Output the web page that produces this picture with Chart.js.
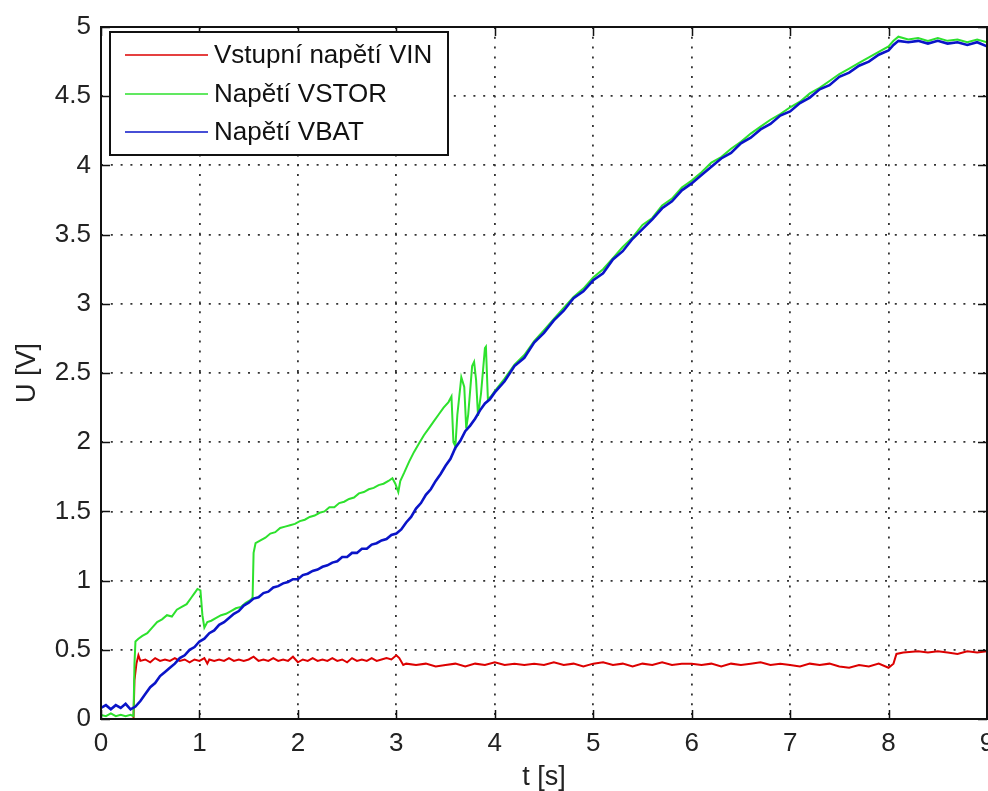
<!DOCTYPE html>
<html>
<head>
<meta charset="utf-8">
<title>Napětí VIN / VSTOR / VBAT</title>
<script src="https://cdn.jsdelivr.net/npm/chart.js@4.4.1/dist/chart.umd.min.js"></script>
<style>
  html, body { margin: 0; padding: 0; background: #fff; }
  #wrap { width: 988px; height: 791px; }
</style>
</head>
<body>
<div id="wrap"><canvas id="chart" width="988" height="791"></canvas></div>
<script>
// tick values
const xTicks = [0, 1, 2, 3, 4, 5, 6, 7, 8, 9];
const yTicks = [0, 0.5, 1, 1.5, 2, 2.5, 3, 3.5, 4, 4.5, 5];

const seriesLabels = ['Vstupní napětí VIN', 'Napětí VSTOR', 'Napětí VBAT'];

// VIN (red)
const vinTime = [0, 0.33, 0.34, 0.36, 0.38, 0.40, 0.45, 0.50, 0.55, 0.60, 0.65, 0.70, 0.75, 0.80, 0.85, 0.90, 0.95,
  1.00, 1.05, 1.08, 1.10, 1.15, 1.20, 1.25, 1.30, 1.35, 1.40, 1.45, 1.50, 1.55, 1.60, 1.65, 1.70, 1.75, 1.80, 1.85,
  1.90, 1.95, 2.00, 2.05, 2.10, 2.15, 2.20, 2.25, 2.30, 2.35, 2.40, 2.45, 2.50, 2.55, 2.60, 2.65, 2.70, 2.75, 2.80,
  2.85, 2.90, 2.95, 3.00, 3.03, 3.07, 3.10, 3.2, 3.3, 3.4, 3.5, 3.6, 3.7, 3.8, 3.9, 4.0, 4.1, 4.2, 4.3, 4.4, 4.5,
  4.6, 4.7, 4.8, 4.9, 5.0, 5.1, 5.2, 5.3, 5.4, 5.5, 5.6, 5.7, 5.8, 5.9, 6.0, 6.1, 6.2, 6.3, 6.4, 6.5, 6.6, 6.7,
  6.8, 6.9, 7.0, 7.1, 7.2, 7.3, 7.4, 7.5, 7.6, 7.7, 7.8, 7.9, 8.0, 8.05, 8.08, 8.15, 8.3, 8.4, 8.5, 8.6, 8.7,
  8.8, 8.9, 9.0];
const vinValues = [0, 0, 0.28, 0.40, 0.46, 0.42, 0.43, 0.41, 0.44, 0.42, 0.43, 0.42, 0.44, 0.42, 0.43, 0.41, 0.43,
  0.42, 0.44, 0.40, 0.43, 0.42, 0.43, 0.42, 0.44, 0.42, 0.43, 0.42, 0.43, 0.45, 0.42, 0.43, 0.42, 0.44, 0.42, 0.43,
  0.42, 0.45, 0.41, 0.43, 0.42, 0.44, 0.42, 0.43, 0.42, 0.44, 0.42, 0.43, 0.41, 0.44, 0.42, 0.43, 0.42, 0.44, 0.42,
  0.43, 0.44, 0.43, 0.46, 0.44, 0.39, 0.40, 0.39, 0.40, 0.38, 0.39, 0.40, 0.38, 0.40, 0.39, 0.41, 0.39, 0.40, 0.39, 0.40, 0.39,
  0.41, 0.39, 0.40, 0.38, 0.40, 0.41, 0.39, 0.40, 0.38, 0.40, 0.39, 0.41, 0.39, 0.40, 0.40, 0.39, 0.40, 0.38, 0.40, 0.39, 0.40, 0.41,
  0.39, 0.40, 0.39, 0.38, 0.40, 0.39, 0.40, 0.38, 0.37, 0.39, 0.38, 0.40, 0.37, 0.40, 0.47, 0.48, 0.49, 0.48, 0.49, 0.48, 0.47,
  0.49, 0.48, 0.49];

// VSTOR (green)
const vstorTime = [0.00, 0.05, 0.10, 0.15, 0.20, 0.25, 0.30, 0.33, 0.34, 0.35, 0.38, 0.42, 0.47, 0.52, 0.57, 0.62,
  0.67, 0.72, 0.77, 0.82, 0.87, 0.92, 0.95, 0.98, 1.01, 1.03, 1.05, 1.08, 1.12, 1.17, 1.22, 1.27, 1.32, 1.37, 1.42,
  1.47, 1.52, 1.54, 1.55, 1.57, 1.62, 1.67, 1.72, 1.77, 1.82, 1.87, 1.92, 1.97, 2.02, 2.07, 2.12, 2.17, 2.22, 2.27,
  2.32, 2.37, 2.42, 2.47, 2.52, 2.57, 2.62, 2.67, 2.72, 2.77, 2.82, 2.87, 2.92, 2.96, 2.99, 3.02, 3.04, 3.08, 3.13,
  3.18, 3.23, 3.28, 3.33, 3.38, 3.43, 3.48, 3.53, 3.56, 3.58, 3.60, 3.62, 3.66, 3.69, 3.71, 3.73, 3.77, 3.79, 3.81,
  3.83, 3.86, 3.90, 3.91, 3.93, 3.96, 4.00, 4.1, 4.2, 4.3, 4.4, 4.5, 4.6, 4.7, 4.8, 4.9, 5.0, 5.1, 5.2, 5.3, 5.4,
  5.5, 5.6, 5.7, 5.8, 5.9, 6.0, 6.1, 6.2, 6.3, 6.4, 6.5, 6.6, 6.7, 6.8, 6.9, 7.0, 7.1, 7.2, 7.3, 7.4, 7.5, 7.6,
  7.7, 7.8, 7.9, 8.0, 8.05, 8.1, 8.2, 8.3, 8.4, 8.5, 8.6, 8.7, 8.8, 8.9, 9.0];
const vstorValues = [0.03, 0.02, 0.04, 0.02, 0.03, 0.02, 0.03, 0.02, 0.40, 0.56, 0.58, 0.60, 0.62, 0.66, 0.70, 0.72,
  0.75, 0.74, 0.79, 0.81, 0.83, 0.88, 0.91, 0.94, 0.93, 0.75, 0.66, 0.70, 0.71, 0.73, 0.75, 0.76, 0.78, 0.80, 0.81,
  0.84, 0.86, 0.88, 1.20, 1.27, 1.29, 1.31, 1.34, 1.35, 1.38, 1.39, 1.40, 1.41, 1.43, 1.44, 1.46, 1.47, 1.49, 1.50,
  1.53, 1.53, 1.56, 1.57, 1.59, 1.60, 1.63, 1.64, 1.66, 1.67, 1.69, 1.70, 1.72, 1.74, 1.70, 1.64, 1.72, 1.78, 1.86,
  1.93, 1.99, 2.05, 2.10, 2.15, 2.20, 2.25, 2.29, 2.33, 2.00, 1.97, 2.20, 2.47, 2.40, 2.10, 2.20, 2.55, 2.58, 2.45,
  2.19, 2.35, 2.68, 2.69, 2.31, 2.33, 2.37, 2.46, 2.56, 2.63, 2.73, 2.81, 2.89, 2.97, 3.05, 3.11, 3.19, 3.25, 3.33, 3.41, 3.48,
  3.57, 3.62, 3.71, 3.76, 3.84, 3.89, 3.95, 4.02, 4.06, 4.12, 4.17, 4.23, 4.28, 4.33, 4.37, 4.42, 4.46, 4.52, 4.56, 4.61, 4.66, 4.70,
  4.74, 4.78, 4.82, 4.86, 4.90, 4.93, 4.91, 4.92, 4.90, 4.92, 4.90, 4.91, 4.89, 4.91, 4.89];

// VBAT (blue)
const vbatTime = [0.00, 0.05, 0.10, 0.15, 0.20, 0.25, 0.30, 0.35, 0.40, 0.45, 0.50, 0.55, 0.60, 0.65, 0.70, 0.75,
  0.80, 0.85, 0.90, 0.95, 1.00, 1.05, 1.10, 1.15, 1.20, 1.25, 1.30, 1.35, 1.40, 1.45, 1.50, 1.55, 1.60, 1.65, 1.70,
  1.75, 1.80, 1.85, 1.90, 1.95, 2.00, 2.05, 2.10, 2.15, 2.20, 2.25, 2.30, 2.35, 2.40, 2.45, 2.50, 2.55, 2.60, 2.65,
  2.70, 2.75, 2.80, 2.85, 2.90, 2.95, 3.00, 3.05, 3.10, 3.15, 3.20, 3.25, 3.30, 3.35, 3.40, 3.45, 3.50, 3.55, 3.60,
  3.65, 3.70, 3.75, 3.80, 3.85, 3.90, 3.95, 4.00, 4.1, 4.2, 4.3, 4.4, 4.5, 4.6, 4.7, 4.8, 4.9, 5.0, 5.1, 5.2, 5.3,
  5.4, 5.5, 5.6, 5.7, 5.8, 5.9, 6.0, 6.1, 6.2, 6.3, 6.4, 6.5, 6.6, 6.7, 6.8, 6.9, 7.0, 7.1, 7.2, 7.3, 7.4, 7.5,
  7.6, 7.7, 7.8, 7.9, 8.0, 8.05, 8.1, 8.2, 8.3, 8.4, 8.5, 8.6, 8.7, 8.8, 8.9, 9.0];
const vbatValues = [0.08, 0.10, 0.07, 0.10, 0.08, 0.11, 0.07, 0.09, 0.13, 0.18, 0.23, 0.26, 0.31, 0.34, 0.37, 0.40,
  0.44, 0.46, 0.50, 0.52, 0.56, 0.58, 0.62, 0.64, 0.68, 0.70, 0.73, 0.76, 0.78, 0.82, 0.84, 0.87, 0.88, 0.91, 0.92,
  0.95, 0.96, 0.98, 0.99, 1.01, 1.01, 1.04, 1.05, 1.07, 1.08, 1.10, 1.11, 1.13, 1.14, 1.17, 1.17, 1.20, 1.20, 1.23,
  1.23, 1.26, 1.27, 1.29, 1.30, 1.33, 1.34, 1.37, 1.42, 1.46, 1.52, 1.56, 1.62, 1.66, 1.72, 1.77, 1.83, 1.88, 1.96,
  2.01, 2.08, 2.12, 2.17, 2.23, 2.28, 2.31, 2.36, 2.44, 2.55, 2.61, 2.72, 2.79, 2.88, 2.95, 3.04, 3.09, 3.17, 3.22, 3.32, 3.38,
  3.47, 3.54, 3.61, 3.69, 3.74, 3.82, 3.87, 3.93, 3.99, 4.05, 4.09, 4.16, 4.20, 4.26, 4.30, 4.36, 4.39, 4.45, 4.49, 4.55, 4.58, 4.64,
  4.67, 4.72, 4.75, 4.80, 4.83, 4.87, 4.90, 4.89, 4.90, 4.88, 4.90, 4.88, 4.89, 4.87, 4.89, 4.86];

const colors = ['rgb(220,0,0)', 'rgb(45,225,45)', 'rgb(10,20,200)'];

const toPoints = (ts, vs) => ts.map((t, i) => ({ x: t, y: vs[i] }));

const FONT = "'Liberation Sans', Arial, sans-serif";
const AREA = { left: 101, top: 27, right: 987, bottom: 719 };

// MATLAB-style box, inward ticks and a legend inside the axes
const matlabBox = {
  id: 'matlabBox',
  afterDraw(chart) {
    const ctx = chart.ctx;
    const ca = chart.chartArea;
    const xs = chart.scales.x, ys = chart.scales.y;
    ctx.save();
    ctx.strokeStyle = '#111';
    ctx.lineWidth = 1.5;
    xTicks.forEach(t => {
      const px = Math.round(xs.getPixelForValue(t)) + 0.5;
      ctx.beginPath();
      ctx.moveTo(px, ca.bottom); ctx.lineTo(px, ca.bottom - 9);
      ctx.moveTo(px, ca.top); ctx.lineTo(px, ca.top + 9);
      ctx.stroke();
    });
    yTicks.forEach(v => {
      const py = Math.round(ys.getPixelForValue(v)) + 0.5;
      ctx.beginPath();
      ctx.moveTo(ca.left, py); ctx.lineTo(ca.left + 9, py);
      ctx.moveTo(ca.right, py); ctx.lineTo(ca.right - 9, py);
      ctx.stroke();
    });
    ctx.lineWidth = 2;
    ctx.strokeRect(ca.left, ca.top, ca.right - ca.left, ca.bottom - ca.top);

    // legend
    const lx = 110, ly = 32, lw = 338, lh = 123;
    ctx.fillStyle = '#fff';
    ctx.fillRect(lx, ly, lw, lh);
    ctx.lineWidth = 2;
    ctx.strokeRect(lx, ly, lw, lh);
    const rows = [55, 94, 132];
    ctx.font = '26px ' + FONT;
    ctx.textBaseline = 'middle';
    seriesLabels.forEach((label, i) => {
      ctx.strokeStyle = colors[i];
      ctx.lineWidth = 1.6;
      ctx.beginPath();
      ctx.moveTo(125, rows[i]); ctx.lineTo(208, rows[i]);
      ctx.stroke();
      ctx.fillStyle = '#111';
      ctx.fillText(label, 214, rows[i] + 1);
    });
    ctx.restore();
  }
};

new Chart(document.getElementById('chart'), {
  type: 'line',
  data: {
    datasets: [
      { label: seriesLabels[0], data: toPoints(vinTime, vinValues), borderColor: colors[0], borderWidth: 2, order: 3 },
      { label: seriesLabels[1], data: toPoints(vstorTime, vstorValues), borderColor: colors[1], borderWidth: 2, order: 2 },
      { label: seriesLabels[2], data: toPoints(vbatTime, vbatValues), borderColor: colors[2], borderWidth: 2.6, order: 1 }
    ]
  },
  options: {
    responsive: false,
    devicePixelRatio: 1,
    animation: false,
    elements: { point: { radius: 0 }, line: { tension: 0 } },
    layout: { padding: { top: AREA.top, right: 988 - AREA.right, left: 0, bottom: 0 } },
    plugins: { legend: { display: false }, tooltip: { enabled: false } },
    scales: {
      x: {
        type: 'linear',
        min: 0, max: 9,
        afterBuildTicks: (s) => { s.ticks = xTicks.map(v => ({ value: v })); },
        afterFit: (s) => { s.height = 791 - AREA.bottom; s.paddingLeft = 0; s.paddingRight = 0; },
        ticks: { font: { family: FONT, size: 26 }, color: '#222', padding: 9, maxRotation: 0, callback: (v) => String(v) },
        grid: { color: '#333', lineWidth: 1.8, drawTicks: false },
        border: { display: false, dash: [2, 7.8] },
        title: { display: true, text: 't [s]', font: { family: FONT, size: 27, lineHeight: 1 }, color: '#222', padding: { top: 0, bottom: 0 } }
      },
      y: {
        type: 'linear',
        min: 0, max: 5,
        afterBuildTicks: (s) => { s.ticks = yTicks.map(v => ({ value: v })); },
        afterFit: (s) => { s.width = AREA.left; s.paddingTop = 0; s.paddingBottom = 0; },
        ticks: { font: { family: FONT, size: 26 }, color: '#222', padding: 10, callback: (v) => String(v) },
        grid: { color: '#333', lineWidth: 1.8, drawTicks: false },
        border: { display: false, dash: [2, 7.8] },
        title: { display: true, text: 'U [V]', font: { family: FONT, size: 27, lineHeight: 1 }, color: '#222', padding: { top: 14, bottom: 0 } }
      }
    }
  },
  plugins: [matlabBox]
});
</script>
</body>
</html>
